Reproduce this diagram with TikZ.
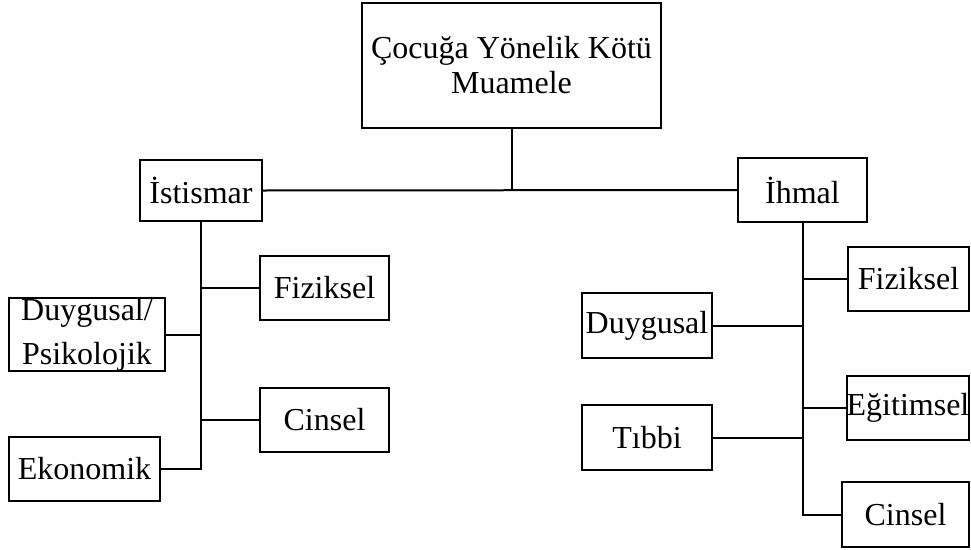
\documentclass[tikz,border=0pt]{standalone}
\usepackage{fontspec}
\setmainfont{Liberation Serif}
\begin{document}
\begin{tikzpicture}[x=1pt,y=-1pt,
  box/.style={draw=black,line width=2pt,rectangle,inner sep=0pt,align=center,
    font=\fontsize{32}{35}\selectfont},
  conn/.style={draw=black,line width=2pt}]
\useasboundingbox (0,0) rectangle (971,549);
% nodes
\node[box,minimum width=299pt,minimum height=125pt] (top) at (511.5,65.5) {Çocuğa Yönelik Kötü\\Muamele};
\node[box,minimum width=122pt,minimum height=61pt] (ist) at (201,190.5) {İstismar};
\node[box,minimum width=129pt,minimum height=64pt] (ihm) at (802.5,190) {İhmal};
% left children
\node[box,minimum width=129pt,minimum height=64pt] (fizL) at (324.5,288) {Fiziksel};
\node[box,minimum width=156pt,minimum height=73pt,font=\fontsize{32}{44}\selectfont] (duyL) at (87,334.5) {Duygusal/\\Psikolojik};
\node[box,minimum width=129pt,minimum height=64pt] (cinL) at (324.5,420) {Cinsel};
\node[box,minimum width=151pt,minimum height=64pt] (eko) at (84.5,469) {Ekonomik};
% right children
\node[box,minimum width=121pt,minimum height=64pt] (fizR) at (908.5,279) {Fiziksel};
\node[box,minimum width=130pt,minimum height=65pt] (duyR) at (647,325.5) {Duygusal};
\node[box,minimum width=122pt,minimum height=64pt] (egi) at (908,408) {Eğitimsel};
\node[box,minimum width=130pt,minimum height=65pt] (tib) at (647,437.5) {Tıbbi};
\node[box,minimum width=127pt,minimum height=65pt] (cinR) at (905.5,514.5) {Cinsel};
% connectors
\coordinate (mid) at (top.south |- ist.east);
\draw[conn] (top.south) -- (mid);
\draw[conn] (ist.east) -- (ihm.west);
\draw[conn] (ist.south) |- (eko.east);
\draw[conn] (fizL.west) -- (fizL.west -| ist.south);
\draw[conn] (duyL.east) -- (duyL.east -| ist.south);
\draw[conn] (cinL.west) -- (cinL.west -| ist.south);
\draw[conn] (ihm.south) |- (cinR.west);
\draw[conn] (fizR.west) -- (fizR.west -| ihm.south);
\draw[conn] (duyR.east) -- (duyR.east -| ihm.south);
\draw[conn] (egi.west) -- (egi.west -| ihm.south);
\draw[conn] (tib.east) -- (tib.east -| ihm.south);
\end{tikzpicture}
\end{document}
